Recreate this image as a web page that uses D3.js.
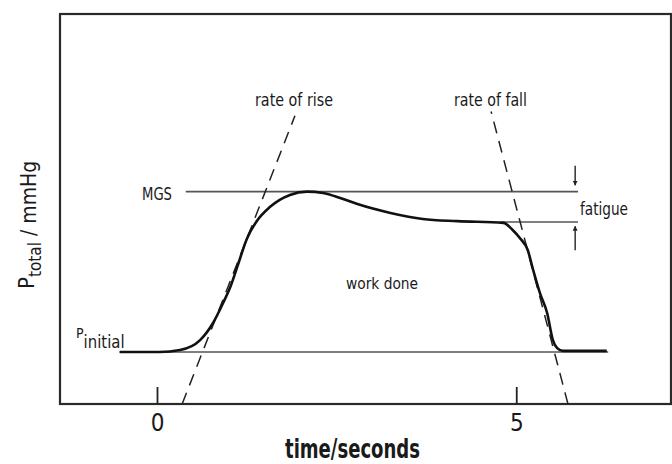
<!DOCTYPE html>
<html>
<head>
<meta charset="utf-8">
<script src="https://cdn.jsdelivr.net/npm/d3@7"></script>
<style>
  body { margin: 0; background: #fff; }
  svg { display: block; }
  text { font-family: "DejaVu Sans Condensed", "DejaVu Sans", sans-serif; fill: #1a1a1a; }
</style>
</head>
<body>
<svg id="chart" width="672" height="464"></svg>
<script>
// Pressure trace (time in s, pressure in mmHg)
const curveTime = [-0.52, 0.04, 0.32, 0.60, 0.78, 0.92, 1.02, 1.13, 1.25, 1.39, 1.57, 1.85, 2.09,
                   2.31, 2.55, 2.79, 3.25, 3.70, 4.18, 4.82, 4.95, 5.05, 5.16, 5.23, 5.33, 5.43,
                   5.51, 5.57, 5.65, 6.26];
const curvePressure = [24, 24, 24.9, 29.5, 37.4, 46.6, 54.0, 64.6, 76.2, 84.5, 90.9, 96.5, 98.0,
                       97.4, 95.1, 92.3, 88.2, 85.4, 84.4, 83.6, 80.3, 76.6, 71.1, 62.5, 51.2, 42.0,
                       29.5, 25.8, 24.5, 24.5];

// Horizontal reference levels
const levelNames = ["initial", "MGS", "fatigue"];
const levelValues = [24, 98, 84];
const levelStart = [-0.52, 0.40, 4.78];
const levelEnd = [6.28, 5.86, 5.86];

// Dashed tangents (rate of rise / rate of fall)
const tangentNames = ["rate of rise", "rate of fall"];
const tangentT0 = [0.35, 5.72];
const tangentP0 = [0, 0];
const tangentT1 = [1.92, 4.65];
const tangentP1 = [133, 135];

// Fatigue arrows
const arrowTime = [5.82, 5.82];
const arrowFrom = [110, 71];
const arrowTo = [101, 82];

const xTicks = [0, 5];

const svg = d3.select("#chart");
const margin = {left: 60, right: 671, top: 14, bottom: 404};

const x = d3.scaleLinear().domain([-1.35, 7.154]).range([margin.left, margin.right]);
const y = d3.scaleLinear().domain([0, 180]).range([margin.bottom, margin.top]);

svg.append("defs").append("marker")
    .attr("id", "head")
    .attr("viewBox", "0 0 10 10")
    .attr("refX", 9).attr("refY", 5)
    .attr("markerWidth", 5).attr("markerHeight", 6)
    .attr("markerUnits", "userSpaceOnUse")
    .attr("orient", "auto")
  .append("path")
    .attr("d", "M0,0 L10,5 L0,10 Z")
    .attr("fill", "#222");

// Frame
svg.append("rect")
    .attr("x", margin.left).attr("y", margin.top)
    .attr("width", margin.right - margin.left).attr("height", margin.bottom - margin.top)
    .attr("fill", "none")
    .attr("stroke", "#2a2a2a")
    .attr("stroke-width", 2.2);

// x axis ticks point upward from the frame
const xAxis = d3.axisBottom(x)
    .tickValues(xTicks)
    .tickSize(-17)
    .tickPadding(10)
    .tickFormat(d3.format("d"));

const gx = svg.append("g")
    .attr("transform", `translate(0, ${margin.bottom})`)
    .call(xAxis);
gx.select(".domain").remove();
gx.selectAll(".tick line").attr("stroke", "#222").attr("stroke-width", 1.8);
gx.selectAll(".tick text")
    .attr("fill", "#1a1a1a")
    .style("font-family", "'DejaVu Sans Condensed', sans-serif")
    .style("font-size", "24px");

// Reference levels
svg.selectAll(".level")
    .data(levelNames)
    .enter()
    .append("line")
    .attr("class", "level")
    .attr("x1", (d, i) => x(levelStart[i]))
    .attr("x2", (d, i) => x(levelEnd[i]))
    .attr("y1", (d, i) => y(levelValues[i]))
    .attr("y2", (d, i) => y(levelValues[i]))
    .attr("stroke", "#555")
    .attr("stroke-width", 1.7);

// Tangent lines
svg.selectAll(".tangent")
    .data(tangentNames)
    .enter()
    .append("line")
    .attr("class", "tangent")
    .attr("x1", (d, i) => x(tangentT0[i]))
    .attr("y1", (d, i) => y(tangentP0[i]))
    .attr("x2", (d, i) => x(tangentT1[i]))
    .attr("y2", (d, i) => y(tangentP1[i]))
    .attr("stroke", "#222")
    .attr("stroke-width", 1.5)
    .attr("stroke-dasharray", "12,8");

// Pressure curve
const line = d3.line()
    .x(d => x(d[0]))
    .y(d => y(d[1]))
    .curve(d3.curveMonotoneX);

svg.append("path")
    .datum(d3.zip(curveTime, curvePressure))
    .attr("d", line)
    .attr("fill", "none")
    .attr("stroke", "#111")
    .attr("stroke-width", 2.6);

// Fatigue arrows
svg.selectAll(".arrow")
    .data(arrowTime)
    .enter()
    .append("line")
    .attr("class", "arrow")
    .attr("x1", d => x(d))
    .attr("x2", d => x(d))
    .attr("y1", (d, i) => y(arrowFrom[i]))
    .attr("y2", (d, i) => y(arrowTo[i]))
    .attr("stroke", "#222")
    .attr("stroke-width", 1.4)
    .attr("marker-end", "url(#head)");

// Annotations
function label(txt, px, py, size, len) {
    const t = svg.append("text")
        .attr("x", px).attr("y", py)
        .attr("font-size", size + "px")
        .text(txt);
    if (len) t.attr("textLength", len).attr("lengthAdjust", "spacingAndGlyphs");
    return t;
}

label("rate of rise", 255, 106, 17, 78);
label("rate of fall", 454, 106, 17, 73);
label("MGS", 142, 200, 17, 30);
label("fatigue", 580, 215, 18, 48);
label("work done", 346, 289, 16, 72);

const pInit = svg.append("text").attr("x", 76).attr("y", 338);
pInit.append("tspan").attr("font-size", "14px").text("P");
pInit.append("tspan").attr("font-size", "18px").attr("dy", 10)
    .attr("textLength", 41).attr("lengthAdjust", "spacingAndGlyphs").text("initial");

// Axis titles
svg.append("text")
    .attr("x", 285).attr("y", 458)
    .attr("font-size", "26px")
    .attr("font-weight", "bold")
    .attr("textLength", 135)
    .attr("lengthAdjust", "spacingAndGlyphs")
    .text("time/seconds");

const yTitle = svg.append("text")
    .attr("transform", "translate(34, 289) rotate(-90)")
    .attr("font-size", "22px");
yTitle.append("tspan").text("P");
yTitle.append("tspan").attr("font-size", "17px").attr("dy", 7).text("total");
yTitle.append("tspan").attr("dy", -5).attr("font-size", "21px").text(" / mmHg");
</script>
</body>
</html>
